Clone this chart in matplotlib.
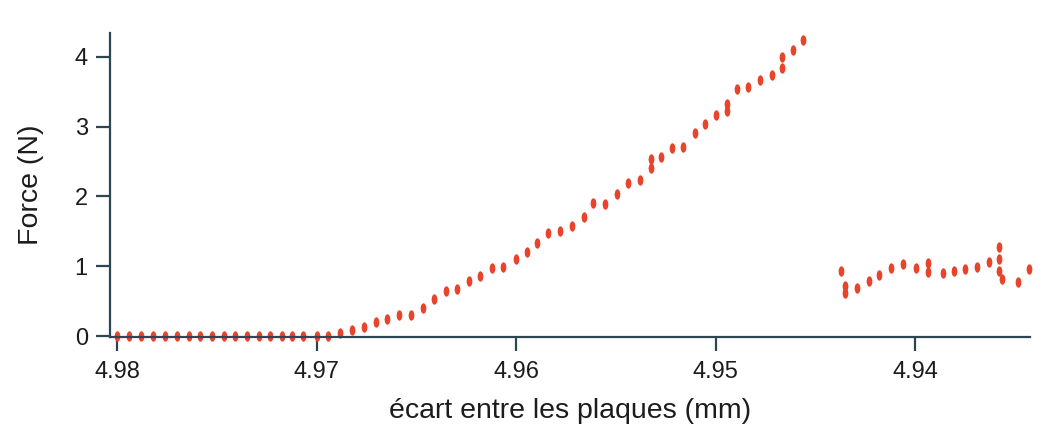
import matplotlib
matplotlib.use("Agg")
import matplotlib.pyplot as plt
from matplotlib.path import Path
from matplotlib.transforms import Affine2D

plt.rcParams['font.family'] = ['Liberation Sans', 'DejaVu Sans']

# Approach: plate gap (mm) and measured force (N)
gap_approach = [
    4.98000, 4.97940, 4.97880, 4.97820, 4.97759, 4.97699, 4.97639, 4.97584,
    4.97524, 4.97464, 4.97409, 4.97348, 4.97288, 4.97233, 4.97173, 4.97123,
    4.97068, 4.96997, 4.96942, 4.96882, 4.96822, 4.96762, 4.96702, 4.96647,
    4.96586, 4.96526, 4.96466, 4.96411, 4.96351, 4.96296, 4.96236, 4.96180,
    4.96120, 4.96065, 4.96000, 4.95945, 4.95895, 4.95840, 4.95779, 4.95719,
    4.95659, 4.95614, 4.95554, 4.95494, 4.95439, 4.95378, 4.95323, 4.95323,
    4.95273, 4.95218, 4.95163, 4.95103, 4.95053, 4.94997, 4.94942, 4.94942,
    4.94892, 4.94837, 4.94777, 4.94717, 4.94667, 4.94667, 4.94612, 4.94561,
]
force_approach = [
    0.00, 0.00, 0.00, 0.00, 0.00, 0.00, 0.00, 0.00,
    0.00, 0.00, 0.00, 0.00, 0.00, 0.00, 0.00, 0.00,
    0.00, 0.00, 0.01, 0.04, 0.09, 0.13, 0.20, 0.24,
    0.30, 0.31, 0.41, 0.54, 0.65, 0.67, 0.79, 0.86,
    0.97, 0.99, 1.10, 1.20, 1.34, 1.47, 1.51, 1.58,
    1.70, 1.91, 1.89, 2.03, 2.19, 2.24, 2.40, 2.54,
    2.57, 2.69, 2.71, 2.91, 3.03, 3.17, 3.22, 3.32,
    3.53, 3.56, 3.67, 3.74, 3.84, 4.00, 4.10, 4.24,
]

# Second run at smaller gaps
gap_second = [
    4.94371, 4.94351, 4.94351, 4.94291, 4.94231, 4.94180, 4.94120, 4.94060,
    4.93995, 4.93935, 4.93935, 4.93860, 4.93805, 4.93749, 4.93689, 4.93629,
    4.93579, 4.93579, 4.93579, 4.93564, 4.93484, 4.93429,
]
force_second = [
    0.94, 0.72, 0.62, 0.69, 0.79, 0.87, 0.97, 1.03,
    0.97, 1.05, 0.92, 0.91, 0.93, 0.96, 0.99, 1.06,
    1.27, 1.10, 0.93, 0.82, 0.78, 0.96,
]

x_ticks = [4.98, 4.97, 4.96, 4.95, 4.94]
y_ticks = [0, 1, 2, 3, 4]

red = '#e8442c'
axis_col = '#2d4650'
text_col = '#1c1c1c'

# vertically elongated dot
circ = Path.unit_circle()
ellipse = Affine2D().scale(0.55, 1.0).transform_path(circ)

fig = plt.figure(figsize=(10.48, 4.32), dpi=100)
ax = fig.add_axes([0.105, 0.220, 0.878, 0.704])

ax.plot(gap_approach, force_approach, linestyle='none', marker=ellipse,
        markersize=7.5, color=red, markeredgewidth=0, clip_on=False)
ax.plot(gap_second, force_second, linestyle='none', marker=ellipse,
        markersize=7.5, color=red, markeredgewidth=0, clip_on=False)

ax.set_xlim(4.98035, 4.93424)
ax.set_ylim(-0.01, 4.34)
ax.set_xticks(x_ticks)
ax.set_xticklabels([f'{v:.2f}' for v in x_ticks])
ax.set_yticks(y_ticks)

for side in ('top', 'right'):
    ax.spines[side].set_visible(False)
for side in ('left', 'bottom'):
    ax.spines[side].set_color(axis_col)
    ax.spines[side].set_linewidth(1.6)

ax.tick_params(axis='both', colors=axis_col, width=1.6, length=10,
               direction='out', labelsize=17, labelcolor=text_col)
ax.tick_params(axis='x', pad=7)
ax.tick_params(axis='y', pad=6)

ax.set_xlabel('écart entre les plaques (mm)', fontsize=20.5, color=text_col,
              labelpad=11)
ax.set_ylabel('Force (N)', fontsize=20.5, color=text_col, labelpad=22)

fig.savefig('out.png', dpi=100, facecolor='white')
